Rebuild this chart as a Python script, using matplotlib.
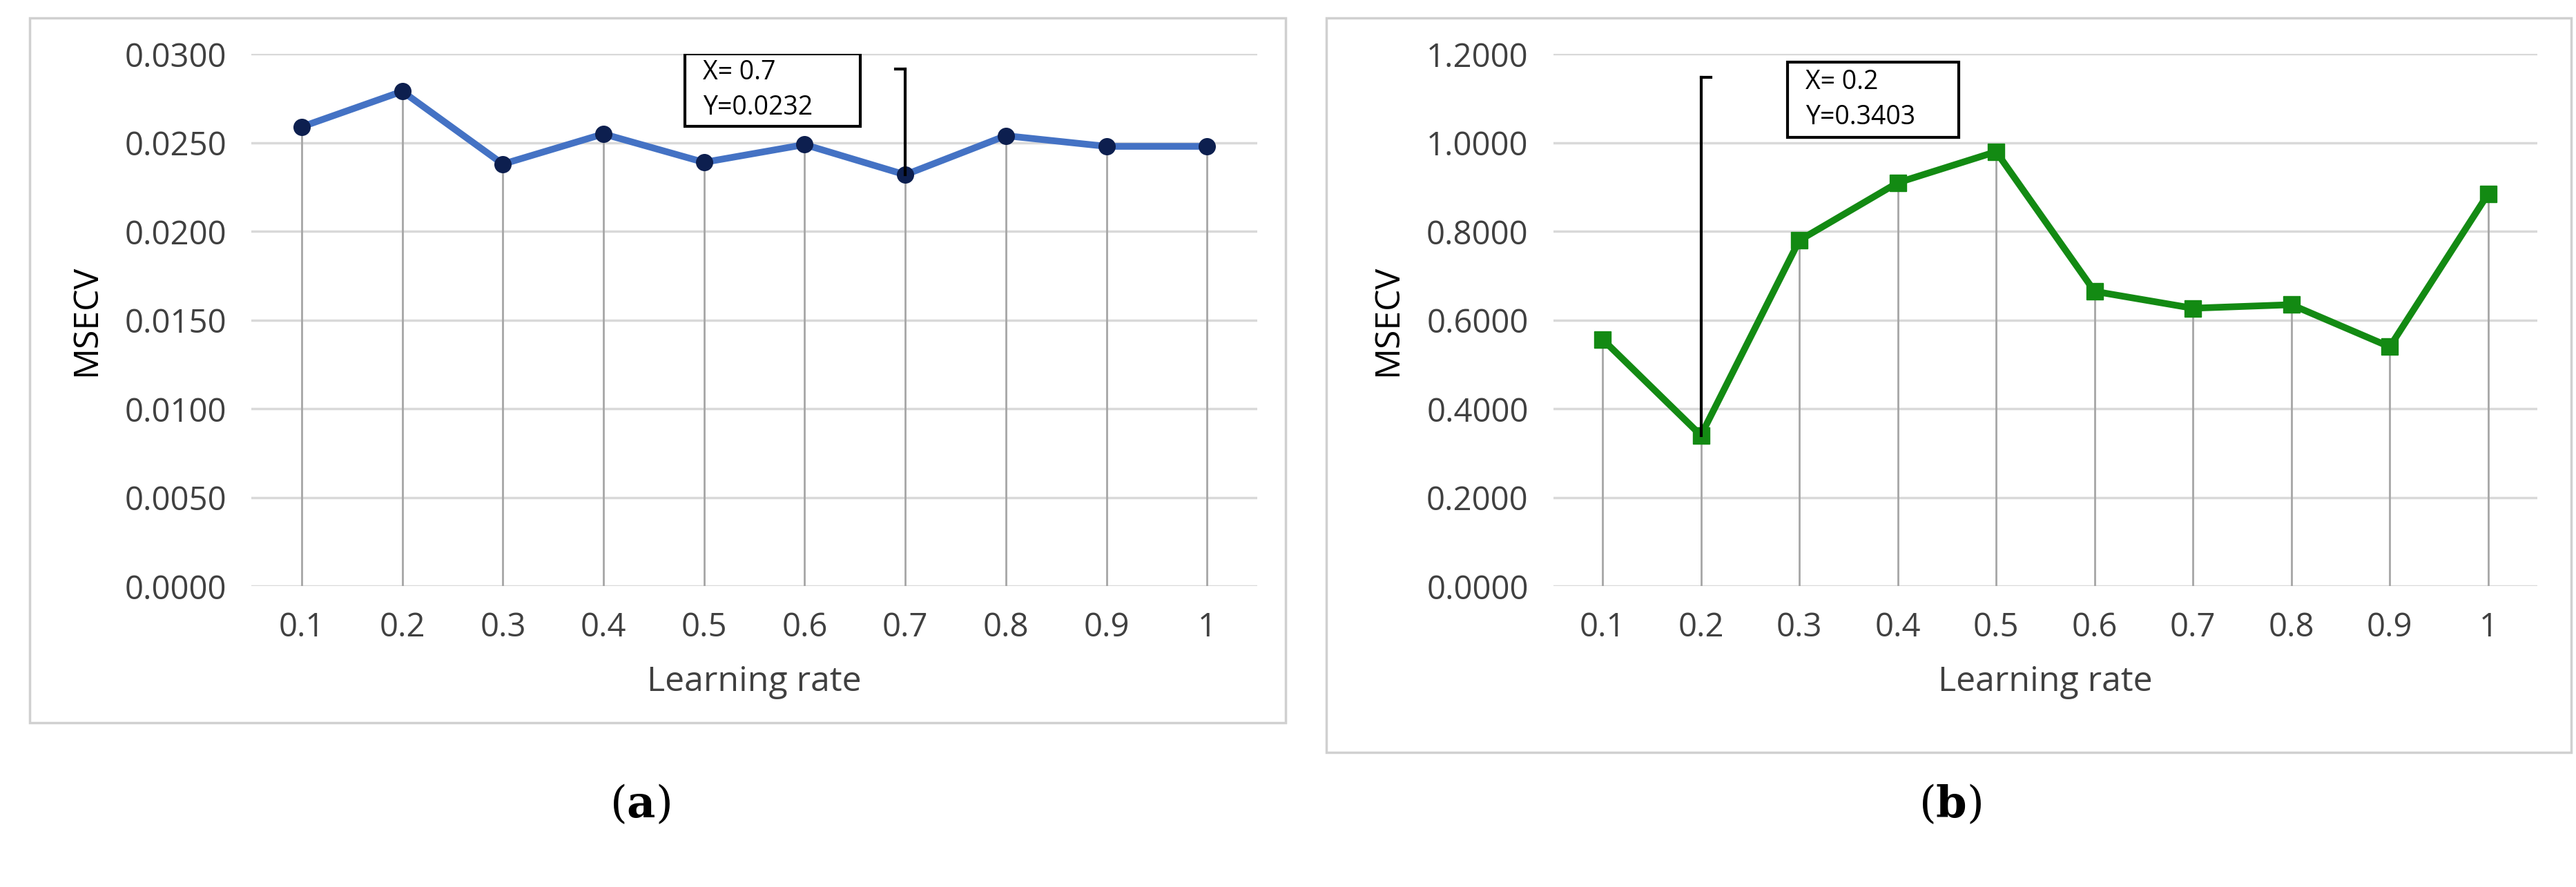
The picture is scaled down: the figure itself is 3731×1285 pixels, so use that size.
import matplotlib
matplotlib.use("Agg")
import matplotlib.pyplot as plt
from matplotlib.patches import Rectangle

plt.rcParams['font.family'] = ['Open Sans', 'DejaVu Sans']
plt.rcParams['mathtext.fontset'] = 'dejavuserif'

rates = ['0.1', '0.2', '0.3', '0.4', '0.5', '0.6', '0.7', '0.8', '0.9', '1']
msecv_a = [0.0259, 0.0279, 0.0238, 0.0255, 0.0239, 0.0249, 0.0232, 0.0254, 0.0248, 0.0248]
msecv_b = [0.557, 0.3403, 0.780, 0.910, 0.980, 0.665, 0.627, 0.635, 0.540, 0.885]
yticks_a = [0.0, 0.005, 0.010, 0.015, 0.020, 0.025, 0.030]
yticks_b = [0.0, 0.2, 0.4, 0.6, 0.8, 1.0, 1.2]

fig = plt.figure(figsize=(37.31, 12.85), dpi=100)

for (l, b, w, h) in [(0.0115, 0.185, 0.4875, 0.795), (0.515, 0.152, 0.483, 0.828)]:
    fig.patches.append(Rectangle((l, b), w, h, transform=fig.transFigure,
                                 fill=False, edgecolor='#D0D0D0', lw=2.5))

def panel(rect, vals, yticks, color, mcolor, marker, ms, ann_idx, ann_text, box, brk_top, tick_dx):
    ax = fig.add_axes(rect)
    x = list(range(len(rates)))
    ymax = yticks[-1]
    ax.set_ylim(0, ymax)
    ax.set_xlim(-0.5, len(rates) - 0.5)
    ax.set_yticks(yticks)
    ax.set_yticklabels(['%.4f' % t for t in yticks])
    ax.set_xticks(x)
    ax.set_xticklabels(rates)
    ax.grid(axis='y', color='#D9D9D9', lw=2.5)
    ax.set_axisbelow(True)
    for s in ax.spines.values():
        s.set_visible(False)
    ax.tick_params(length=0, labelsize=34, colors='#404040', pad=26)
    ax.vlines(x, 0, vals, color='#A6A6A6', lw=2)
    ax.plot(x, vals, color=color, lw=7, marker=marker, ms=ms, mfc=mcolor, mec=mcolor, zorder=3)
    ax.set_xlabel('Learning rate', fontsize=36, color='#404040', labelpad=22)
    ax.set_ylabel('MSECV', fontsize=36, color='#000000', labelpad=22)
    bx0, bx1, by0, by1 = box
    ax.add_patch(Rectangle((bx0, by0), bx1 - bx0, by1 - by0, transform=ax.transAxes,
                           fill=True, facecolor='white', edgecolor='black', lw=3, zorder=4))
    ax.text(bx0 + 0.018, (by0 + by1) / 2, ann_text, transform=ax.transAxes, fontsize=27,
            va='center', ha='left', linespacing=1.45, zorder=5)
    ytop = brk_top * ymax
    ax.plot([ann_idx, ann_idx], [vals[ann_idx], ytop], color='black', lw=3, zorder=4)
    ax.plot([ann_idx + tick_dx, ann_idx], [ytop, ytop], color='black', lw=3, zorder=4)
    return ax

panel([0.0976, 0.339, 0.3905, 0.600], msecv_a, yticks_a, '#4472C4', '#0D1F4F', 'o', 17,
      6, 'X= 0.7\nY=0.0232', (0.431, 0.605, 0.864, 1.0), 0.972, -0.1)
panel([0.603, 0.339, 0.382, 0.600], msecv_b, yticks_b, '#138A13', '#138A13', 's', 17,
      1, 'X= 0.2\nY=0.3403', (0.238, 0.412, 0.843, 0.985), 0.957, 0.1)

fig.text(0.2485, 0.093, r'($\mathbf{a}$)', fontsize=46, ha='center', va='center', family='DejaVu Serif')
fig.text(0.757, 0.093, r'($\mathbf{b}$)', fontsize=46, ha='center', va='center', family='DejaVu Serif')

fig.savefig('out.png', dpi=100, facecolor='white')
